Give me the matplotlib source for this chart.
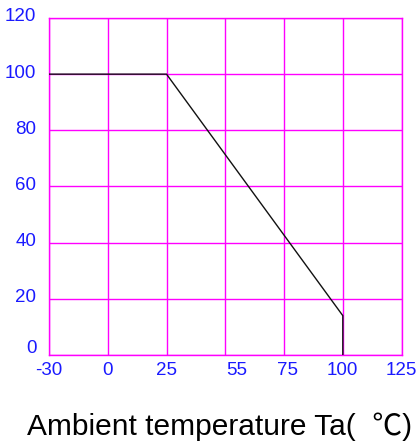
import numpy as np
import matplotlib.pyplot as plt
import matplotlib.transforms as mtransforms

# derating curve
temps = [-30, 25, 100, 100]
power = [100, 100, 14, 0]

x_ticks = [-30, 0, 25, 55, 75, 100, 125]
y_ticks = [0, 20, 40, 60, 80, 100, 120]
xlabel = "Ambient temperature Ta(  \u2103)"

plt.rcParams['font.family'] = ['Liberation Sans', 'Noto Sans CJK SC', 'DejaVu Sans']

fig = plt.figure(figsize=(4.17, 4.44), dpi=100)
ax = fig.add_axes([0.1175, 0.2005, 0.8455, 0.759])

# grid is evenly spaced, one cell per tick value
grid_pos = np.arange(len(x_ticks))
xs = np.interp(temps, x_ticks, grid_pos)

for p in grid_pos:
    ax.axvline(p, color='#ff00ff', lw=1, zorder=1)
for v in y_ticks:
    ax.axhline(v, color='#ff00ff', lw=1, zorder=1)

ax.plot(xs, power, color='#111111', lw=1, zorder=3)

ax.set_xlim(grid_pos[0], grid_pos[-1])
ax.set_ylim(0, 120)

# labels sit slightly off the grid lines in the original
label_pos = [0, 1, 2, 3.19, 4.06, 5, 6]
ax.set_xticks(label_pos)
ax.set_xticklabels([str(t) for t in x_ticks])
ax.set_yticks(y_ticks)
ax.set_yticklabels([str(t) for t in y_ticks])
ax.tick_params(length=0, labelsize=13.5, labelcolor='#1a1aff')
ax.tick_params(axis='y', pad=9)
ax.tick_params(axis='x', pad=5)

# y labels are drawn a little above their grid lines
for i, lbl in enumerate(ax.get_yticklabels()):
    dy = 8 if i == 0 else 3
    lbl.set_transform(lbl.get_transform() + mtransforms.Affine2D().translate(0, dy))

for s in ax.spines.values():
    s.set_color('#ff00ff')
    s.set_linewidth(1)

fig.text(220 / 417, 9 / 444, xlabel, fontsize=21.5, ha='center', va='baseline')

fig.savefig('out.png', dpi=100)
